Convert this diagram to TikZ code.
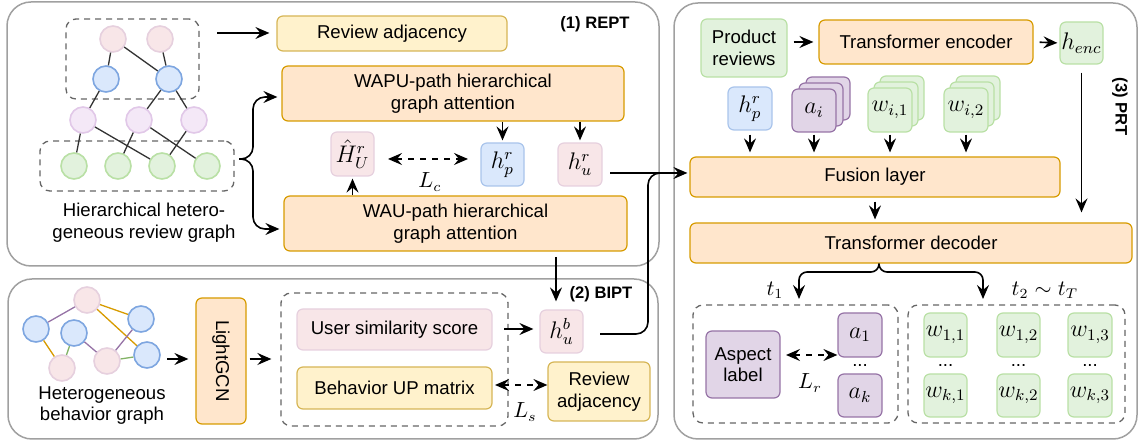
\documentclass[tikz,border=0pt]{standalone}
\usepackage{fontspec}
\setmainfont{Liberation Sans}
\usetikzlibrary{arrows.meta}
\definecolor{orF}{HTML}{FFE6CC}\definecolor{orD}{HTML}{D79B00}
\definecolor{yeF}{HTML}{FFF2CC}\definecolor{yeD}{HTML}{D6B656}
\definecolor{piF}{HTML}{F8E6E8}\definecolor{piD}{HTML}{E6D0DE}
\definecolor{blF}{HTML}{DAE8FC}\definecolor{blD}{HTML}{7EA6E0}\definecolor{blD2}{HTML}{A9C4EB}
\definecolor{lpF}{HTML}{F4E8F7}\definecolor{lpD}{HTML}{E1C8E8}
\definecolor{grF}{HTML}{E2F2DD}\definecolor{grD}{HTML}{B9E0A5}\definecolor{grE}{HTML}{82B366}
\definecolor{puF}{HTML}{E1D5E7}\definecolor{puD}{HTML}{9673A6}
\definecolor{outerC}{HTML}{A0A0A0}\definecolor{dashC}{HTML}{666666}
\definecolor{edgeC}{HTML}{333333}
\begin{document}
\begin{tikzpicture}[x=0.5pt,y=-0.5pt,
  every node/.style={inner sep=0pt, font=\fontsize{9.3}{10.8}\selectfont},
  sz/.style 2 args={minimum width=#1*0.5pt, minimum height=#2*0.5pt},
  bx/.style={draw, rounded corners=3pt, line width=0.6pt, align=center},
  orbox/.style={bx, fill=orF, draw=orD},
  yebox/.style={bx, fill=yeF, draw=yeD},
  pibox/.style={bx, fill=piF, draw=piD},
  blbox/.style={bx, fill=blF, draw=blD2},
  grbox/.style={bx, fill=grF, draw=grD},
  pubox/.style={bx, fill=puF, draw=puD},
  mth/.style={font=\fontsize{12}{14}\selectfont},
  lbl/.style={font=\fontsize{10.5}{12}\selectfont},
  ttl/.style={font=\fontsize{8.3}{10}\selectfont\bfseries},
  outer/.style={draw=outerC, line width=0.75pt, rounded corners=12pt},
  dbox/.style={draw=dashC, dash pattern=on 3pt off 2.5pt, line width=0.65pt, rounded corners=5pt},
  arr/.style={-{Stealth[length=7pt,width=6pt,inset=2.5pt]}, line width=0.8pt, shorten >=2pt},
  darr/.style={{Stealth[length=7pt,width=6pt,inset=2.5pt]}-{Stealth[length=7pt,width=6pt,inset=2.5pt]}, dash pattern=on 3pt off 3pt, line width=0.8pt},
  circ/.style={circle, minimum size=13pt, line width=0.8pt},
  pic/.style={circ, fill=piF, draw=piD},
  blc/.style={circ, fill=blF, draw=blD},
  lpc/.style={circ, fill=lpF, draw=lpD},
  grc/.style={circ, fill=grF, draw=grD},
  ge/.style={draw=edgeC, line width=0.65pt},
  be/.style={line width=0.65pt},
]
\useasboundingbox (0,0) rectangle (1140,442);

% ---------- outer panels
\draw[outer] (7,2) rectangle (659,266);
\draw[outer] (8,279) rectangle (658,439);
\draw[outer] (674,3) rectangle (1137,439);

% ---------- (1) REPT
\node[dbox, sz={133}{80}] (dashT) at (132.5,59) {};
\node[dbox, sz={194}{50}] (dashG) at (137,166) {};
\node[pic] (p1) at (113,39) {};
\node[pic] (p2) at (160,39) {};
\node[blc] (b1) at (106,79) {};
\node[blc] (b2) at (169,79) {};
\node[lpc] (l1) at (83,120) {};
\node[lpc] (l2) at (139,120) {};
\node[lpc] (l3) at (194,120) {};
\node[grc] (g1) at (74,166) {};
\node[grc] (g2) at (118,166) {};
\node[grc] (g3) at (162,166) {};
\node[grc] (g4) at (207,166) {};
\draw[ge] (p1) -- (b1);
\draw[ge] (p1) -- (b2);
\draw[ge] (p2) -- (b2);
\draw[ge] (b1) -- (l1);
\draw[ge] (b2) -- (l2);
\draw[ge] (b2) -- (l3);
\draw[ge] (l1) -- (g1);
\draw[ge] (l1) -- (g3);
\draw[ge] (l2) -- (g2);
\draw[ge] (l2) -- (g4);
\draw[ge] (l3) -- (g3);
\node[align=center] (hrg) at (144,222.5) {Hierarchical hetero-\\geneous review graph};

\node[yebox, sz={230}{35}] (rev1) at (392,33.5) {Review adjacency};
\node[orbox, sz={342}{55}] (wapu) at (453,93.5) {WAPU-path hierarchical\\graph attention};
\node[orbox, sz={343}{55}] (wau) at (455.5,223.5) {WAU-path hierarchical\\graph attention};
\node[pibox, mth, sz={43}{44}] (Hh) at (352.5,154) {$\hat{H}^{r}_{U}$};
\node[blbox, mth, sz={43}{43}] (hpr) at (502.5,164.5) {$h^r_p$};
\node[pibox, mth, sz={44}{43}] (hur) at (580,164.5) {$h^r_u$};
\node[ttl] (t1) at (595,24) {(1) REPT};

\coordinate (gout) at (217,33);
\draw[arr, shorten >=3.5pt] (gout) -- (rev1.west |- gout);
\coordinate (br) at (239,159);
\coordinate (brt) at (253,97);
\coordinate (brb) at (253,229);
\draw[arr, rounded corners=6pt] (br) -| (brt) -- (wapu.west |- brt);
\draw[arr, rounded corners=6pt] (br) -| (brb) -- (wau.west |- brb);
\draw[arr, shorten >=1pt] (wapu.south -| hpr) -- (hpr.north);
\draw[arr, shorten >=1pt] (wapu.south -| hur) -- (hur.north);
\draw[arr, shorten >=1pt] (wau.north -| Hh) -- (Hh.south);
\coordinate (lcl) at (388,159);
\coordinate (lcr) at (468,159);
\draw[darr] (lcl) -- (lcr);
\node[lbl] (Lc) at (430,182) {$L_c$};

% ---------- (2) BIPT
\node[pic] (q1) at (87,300) {};
\node[blc] (c1) at (36,329) {};
\node[blc] (c2) at (74,333) {};
\node[blc] (c3) at (141,319) {};
\node[blc] (c4) at (147,355) {};
\node[pic] (q2) at (62,368) {};
\node[pic] (q3) at (107,361) {};
\draw[be, draw=puD] (q1) -- (c1);
\draw[be, draw=orD] (q1) -- (c3);
\draw[be, draw=orD] (q1) -- (c4);
\draw[be, draw=orD] (c1) -- (q2);
\draw[be, draw=grE] (c2) -- (q2);
\draw[be, draw=puD] (c2) -- (q3);
\draw[be, draw=puD] (q3) -- (c3);
\draw[be, draw=grE] (q3) -- (c4);
\node[align=center] (hbg) at (102,405.5) {Heterogeneous\\behavior graph};

\node[orbox, rotate=-90, sz={126}{50}] (lgcn) at (221,361) {LightGCN};
\node[dbox, sz={227}{133}] (dashB) at (394.5,359.5) {};
\node[pibox, sz={195}{41}] (uss) at (394.5,329.5) {User similarity score};
\node[yebox, sz={195}{42}] (bup) at (394.5,388) {Behavior UP matrix};
\node[pibox, mth, sz={43}{43}] (hub) at (561.5,331.5) {$h^b_u$};
\node[yebox, sz={102}{59}] (rev2) at (599,391.5) {Review\\adjacency};
\node[ttl] (t2) at (601,294) {(2) BIPT};

\coordinate (gbo) at (167,359);
\draw[arr, shorten >=3.5pt] (gbo) -- (lgcn.south |- gbo);
\draw[arr, shorten <=1.5pt, shorten >=4.5pt] (lgcn.north |- gbo) -- (dashB.west |- gbo);
\coordinate (usso) at (504,329);
\draw[arr, shorten >=3pt] (usso) -- (hub.west |- usso);
\coordinate (wauo) at (556,257);
\draw[arr, shorten >=4pt] (wauo) -- (wauo |- hub.north);
\coordinate (lsl) at (495,385);
\draw[darr] (lsl) -- (rev2.west |- lsl);
\node[lbl] (Ls) at (525,412) {$L_s$};

% ---------- (3) PRT
\node[grbox, sz={86}{58}] (prod) at (744,48) {Product\\reviews};
\node[orbox, sz={214}{44}] (tenc) at (926,42) {Transformer encoder};
\node[grbox, mth, sz={43}{42}] (henc) at (1081.5,43) {$h_{enc}$};
\node[ttl, rotate=-90] (t3) at (1120,107) {(3) PRT};
\node[blbox, mth, sz={44}{43}] (hp2) at (750,108.5) {$h^r_p$};
\node[pubox, sz={44}{43}] (ai3) at (828,98.5) {};
\node[pubox, sz={44}{43}] (ai2) at (821,104.5) {};
\node[pubox, mth, sz={44}{43}] (ai) at (814,110.5) {$a_i$};
\node[grbox, sz={44}{44}] (wa3) at (902,98) {};
\node[grbox, sz={44}{44}] (wa2) at (896,104) {};
\node[grbox, mth, sz={44}{44}] (wi1) at (890,110) {$w_{i,1}$};
\node[grbox, sz={44}{44}] (wb3) at (978,98) {};
\node[grbox, sz={44}{44}] (wb2) at (972,104) {};
\node[grbox, mth, sz={44}{44}] (wi2) at (966,110) {$w_{i,2}$};
\node[orbox, sz={370}{40}] (fus) at (875,177) {Fusion layer};
\node[orbox, sz={442}{40}] (tdec) at (911,243) {Transformer decoder};

\draw[arr, shorten <=3pt, shorten >=2.5pt] (prod.east |- tenc) -- (tenc.west);
\draw[arr, shorten <=3pt, shorten >=1pt] (tenc.east) -- (henc.west);
\draw[arr, shorten <=4pt, shorten >=5pt] (henc.south) -- (henc.south |- tdec.north);
\draw[arr, shorten <=2pt, shorten >=2pt] (hp2.south) -- (hp2.south |- fus.north);
\draw[arr, shorten <=1pt, shorten >=2pt] (ai.south) -- (ai.south |- fus.north);
\draw[arr, shorten <=1pt, shorten >=2pt] (wi1.south) -- (wi1.south |- fus.north);
\draw[arr, shorten <=1pt, shorten >=2pt] (wi2.south) -- (wi2.south |- fus.north);
\draw[arr, shorten <=2pt, shorten >=1.5pt] (fus.south) -- (fus.south |- tdec.north);

% h_u^r and h_u^b into fusion
\coordinate (hro) at (610,173);
\draw[arr, shorten >=1pt] (hro) -- (fus.west |- hro);
\coordinate (hbo) at (600,334);
\coordinate (hbc) at (648,173);
\draw[line width=0.8pt, rounded corners=6pt] (hbo) -| (hbc) -- (670,173);

\node[dbox, sz={205}{118}] (dashL) at (795.5,364) {};
\node[dbox, sz={217}{118}] (dashR) at (1016.5,364) {};
\node[pubox, sz={74}{67}] (asp) at (743,364.5) {Aspect\\label};
\node[pubox, mth, sz={44}{44}] (a1) at (860,335) {$a_1$};
\node[pubox, mth, sz={44}{43}] (ak) at (860,395.5) {$a_k$};
\node (d0) at (860,366) {...};
\coordinate (lrl) at (786,355);
\draw[darr] (lrl) -- (a1.west |- lrl);
\node[lbl] (Lr) at (810,383) {$L_r$};

\node[grbox, mth, sz={43}{44}] (w11) at (945.5,335) {$w_{1,1}$};
\node[grbox, mth, sz={43}{44}] (w12) at (1018.5,335) {$w_{1,2}$};
\node[grbox, mth, sz={44}{44}] (w13) at (1090,335) {$w_{1,3}$};
\node[grbox, mth, sz={43}{43}] (wk1) at (945.5,395.5) {$w_{k,1}$};
\node[grbox, mth, sz={43}{43}] (wk2) at (1018.5,395.5) {$w_{k,2}$};
\node[grbox, mth, sz={44}{43}] (wk3) at (1090,395.5) {$w_{k,3}$};
\node (d1) at (945.5,366) {...};
\node (d2) at (1018.5,366) {...};
\node (d3) at (1090,366) {...};

\coordinate (ds) at (879,272);
\coordinate (tl) at (799,299);
\coordinate (tr) at (983,299);
\draw[arr, shorten >=0pt, rounded corners=4pt] (tdec.south -| ds) -- (ds) -| (tl);
\draw[arr, shorten >=0pt, rounded corners=4pt] (tdec.south -| ds) -- (ds) -| (tr);
\node[lbl] (lt1) at (775,290) {$t_1$};
\node[lbl] (lt2) at (1045,290) {$t_2\sim t_T$};
\end{tikzpicture}
\end{document}
